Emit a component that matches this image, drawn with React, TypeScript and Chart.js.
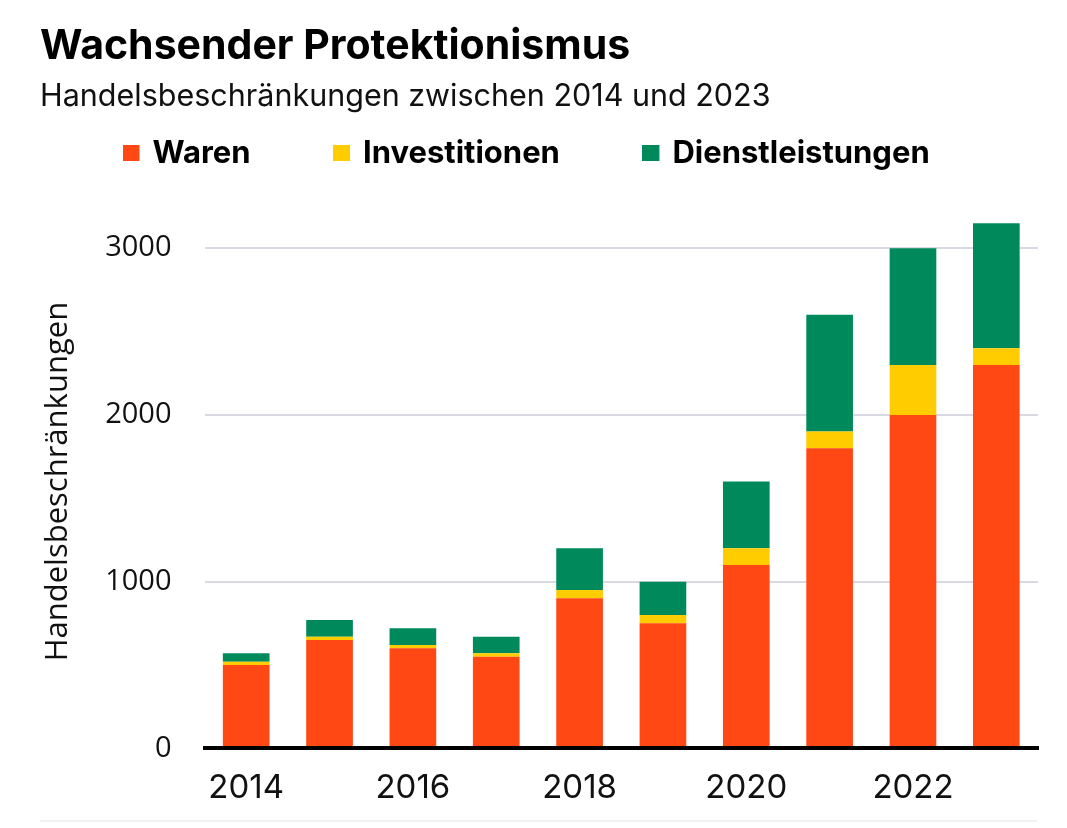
import React, { useEffect, useRef } from 'react';
import { Chart, registerables, layouts } from 'chart.js';

Chart.register(...registerables);

const years = ['2014', '2015', '2016', '2017', '2018', '2019', '2020', '2021', '2022', '2023'];
const waren = [500, 650, 600, 550, 900, 750, 1100, 1800, 2000, 2300];
const investitionen = [20, 20, 20, 20, 50, 50, 100, 100, 300, 100];
const dienstleistungen = [50, 100, 100, 100, 250, 200, 400, 700, 700, 750];
const seriesNames = ['Waren', 'Investitionen', 'Dienstleistungen'];
const seriesColors = ['#FF4814', '#FFCC00', '#008A5B'];
const yTicks = [0, 1000, 2000, 3000];

const titleText = 'Wachsender Protektionismus';
const subtitleText = 'Handelsbeschränkungen zwischen 2014 und 2023';
const yAxisTitle = 'Handelsbeschränkungen';

function makeSwatch(color: string): HTMLCanvasElement {
  const c = document.createElement('canvas');
  c.width = 26;
  c.height = 16;
  const g = c.getContext('2d')!;
  g.fillStyle = color;
  g.fillRect(0, 0, 17, 16);
  return c;
}

const bottomRule = {
  id: 'bottomRule',
  afterDraw(chart: any) {
    const ctx = chart.ctx;
    ctx.save();
    ctx.fillStyle = '#f1f1f3';
    ctx.fillRect(40, chart.height - 8, chart.width - 70, 2);
    ctx.restore();
  },
};

// empty layout box between the legend and the plot area
const legendSpacer = {
  id: 'legendSpacer',
  beforeInit(chart: any) {
    const box: any = {
      position: 'top',
      weight: 0,
      fullSize: true,
      options: { stackWeight: 1 },
      left: 0,
      top: 0,
      right: 0,
      bottom: 0,
      width: 0,
      height: 0,
      isHorizontal() {
        return true;
      },
      update(maxWidth: number) {
        this.width = maxWidth;
        this.height = 36;
      },
      draw() {},
    };
    layouts.addBox(chart, box);
  },
};

export default function App() {
  const ref = useRef<HTMLCanvasElement | null>(null);

  useEffect(() => {
    document.body.style.margin = '0';
    const swatches = seriesColors.map(makeSwatch);
    const values = [waren, investitionen, dienstleistungen];
    const chart = new Chart(ref.current!, {
      type: 'bar',
      data: {
        labels: years,
        datasets: seriesNames.map((name, i) => ({
          label: name,
          data: values[i],
          backgroundColor: seriesColors[i],
          borderWidth: 0,
          barPercentage: 0.56,
          categoryPercentage: 1,
        })),
      },
      options: {
        animation: false,
        responsive: true,
        maintainAspectRatio: false,
        layout: { padding: { left: 40, right: 29, top: 0, bottom: 0 } },
        plugins: {
          tooltip: { enabled: false },
          title: {
            display: true,
            text: titleText,
            align: 'start',
            color: '#000',
            font: { family: 'Inter', size: 41, weight: 'bold' },
            padding: { top: 22, bottom: -28 },
          },
          subtitle: {
            display: true,
            text: subtitleText,
            align: 'start',
            color: '#111',
            font: { family: 'Inter', size: 30.5, weight: 'normal' },
            padding: { top: 35.5, bottom: -71.5 },
          },
          legend: {
            display: true,
            position: 'top',
            align: 'start',
            labels: {
              usePointStyle: true,
              boxWidth: 3,
              boxHeight: 16,
              padding: 94,
              color: '#000',
              font: { family: 'Inter', size: 31, weight: 'bold' },
              generateLabels: (ch: any) =>
                ch.data.datasets.map((ds: any, i: number) => ({
                  text: ds.label,
                  fillStyle: ds.backgroundColor,
                  strokeStyle: ds.backgroundColor,
                  lineWidth: 0,
                  pointStyle: swatches[i],
                  hidden: false,
                  datasetIndex: i,
                  fontColor: '#000',
                })),
            },
          },
        },
        scales: {
          x: {
            stacked: true,
            grid: { display: false, drawTicks: false },
            border: { display: true, color: '#000', width: 4, z: 1 },
            ticks: {
              autoSkip: false,
              maxRotation: 0,
              color: '#111',
              padding: 20,
              font: { family: 'Inter', size: 33 },
              callback: (_v: any, i: number) => (i % 2 === 0 ? years[i] : ''),
            },
          },
          y: {
            stacked: true,
            min: 0,
            max: 3200,
            afterBuildTicks: (axis: any) => {
              axis.ticks = yTicks.map((v) => ({ value: v }));
            },
            grid: { color: '#d9d9e3', lineWidth: 2, drawTicks: false },
            border: { display: false },
            ticks: {
              color: '#111',
              padding: 33,
              font: { family: '"Open Sans"', size: 29 },
              callback: (v: any) => String(v),
            },
            title: {
              display: true,
              text: yAxisTitle,
              color: '#111',
              font: { family: '"Open Sans"', size: 31 },
              padding: { top: 0, bottom: -5 },
            },
          },
        },
      },
      plugins: [bottomRule, legendSpacer],
    } as any);
    return () => chart.destroy();
  }, []);

  return (
    <div style={{ width: 1067, height: 828, position: 'relative' }}>
      <canvas ref={ref} />
    </div>
  );
}
